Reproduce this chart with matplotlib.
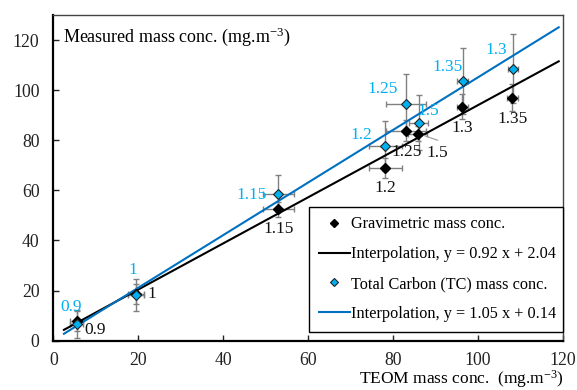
import numpy as np
import matplotlib
matplotlib.use("Agg")
import matplotlib.pyplot as plt

plt.rcParams['font.family'] = ['Liberation Serif', 'DejaVu Serif']
plt.rcParams['mathtext.fontset'] = 'custom'
plt.rcParams['mathtext.rm'] = 'Liberation Serif'
plt.rcParams['mathtext.default'] = 'regular'

# data
labels_grav = ['0.9', '1', '1.15', '1.2', '1.25', '1.5', '1.3', '1.35']
teom_x = [5.5, 19.5, 53.0, 78.2, 83.0, 85.8, 96.3, 108.1]
teom_xerr = [1.6, 1.9, 3.6, 3.8, 4.7, 2.2, 1.3, 1.2]
grav_y = [8.0, 18.5, 52.4, 69.0, 83.9, 82.7, 93.4, 97.0]
grav_yerr = [4.0, 4.0, 3.0, 4.0, 4.0, 3.0, 5.0, 5.4]

labels_tc = ['0.9', '1', '1.15', '1.2', '1.25', '1.5', '1.35', '1.3']
tc_x = [5.5, 19.5, 53.0, 78.2, 83.0, 86.0, 96.4, 108.2]
tc_xerr = [1.6, 1.9, 3.6, 3.8, 4.7, 2.2, 1.3, 1.2]
tc_y = [6.7, 18.2, 58.7, 77.6, 94.5, 87.0, 103.5, 108.6]
tc_yerr = [5.5, 6.3, 7.5, 10.0, 12.0, 11.0, 13.2, 13.7]

fit_range = [2.5, 119.0]
grav_fit = (0.92, 2.04)
tc_fit = (1.05, 0.14)

# label offsets in pixels
off_grav = [(18, -9), (16, 0), (0, -20), (0, -20), (1, -21), (20, -19), (0, -21), (0, -21)]
off_tc = [(-6, 17), (-3, 25), (-27, -1), (-24, 11), (-23, 15), (10, 12), (-15, 14), (-17, 19)]

blue_line = '#0070C0'
blue_pt = '#00B0F0'

fig = plt.figure(figsize=(5.77, 3.90), dpi=100)
ax = fig.add_axes([0.0924, 0.1264, 0.8833, 0.8351])

ax.errorbar(teom_x, grav_y, xerr=teom_xerr, yerr=grav_yerr, fmt='none',
            ecolor='#808080', elinewidth=1, capsize=2.5, zorder=2)
ax.errorbar(tc_x, tc_y, xerr=tc_xerr, yerr=tc_yerr, fmt='none',
            ecolor='#808080', elinewidth=1, capsize=2.5, zorder=2)

xf = np.array(fit_range)
ax.plot(teom_x, grav_y, 'D', color='black', ms=5.5, ls='none', zorder=5,
        label='Gravimetric mass conc.')
ax.plot(xf, grav_fit[0] * xf + grav_fit[1], color='black', lw=1.5, zorder=3,
        label='Interpolation, y = 0.92 x + 2.04')
ax.plot(tc_x, tc_y, 'D', color=blue_pt, mec='#222222', mew=0.8, ms=5.5, ls='none',
        zorder=6, label='Total Carbon (TC) mass conc.')
ax.plot(xf, tc_fit[0] * xf + tc_fit[1], color=blue_line, lw=1.5, zorder=3,
        label='Interpolation, y = 1.05 x + 0.14')

for x, y, s, o in zip(teom_x, grav_y, labels_grav, off_grav):
    ax.annotate(s, (x, y), xytext=o, textcoords='offset pixels', ha='center',
                va='center', fontsize=12.5, color='#111111', zorder=7)
for x, y, s, o in zip(tc_x, tc_y, labels_tc, off_tc):
    ax.annotate(s, (x, y), xytext=o, textcoords='offset pixels', ha='center',
                va='center', fontsize=12.5, color=blue_pt, zorder=7)

# leader line of the black "1.5" label
ax.plot([86.6, 90.5], [82.3, 80.0], color='#999999', lw=0.8, zorder=4)

ax.set_xlim(0, 120)
ax.set_ylim(0, 130)
ax.set_xticks(range(0, 121, 20))
ax.set_yticks(range(0, 121, 20))
ax.tick_params(direction='in', length=4, width=1, labelsize=12.8, pad=10,
               colors='#222222')
ax.tick_params(axis='x', pad=8)
for sp in ['left', 'bottom']:
    ax.spines[sp].set_linewidth(1.6)
    ax.spines[sp].set_color('black')
for sp in ['top', 'right']:
    ax.spines[sp].set_linewidth(1.0)
    ax.spines[sp].set_color('#444444')

ax.text(0.019, 0.932, 'Measured mass conc. (mg.m$^{-3}$)', transform=ax.transAxes,
        ha='left', va='center', fontsize=13)
fig.text(564 / 577, (390 - 379) / 390, 'TEOM mass conc.  (mg.m$^{-3}$)',
         ha='right', va='center', fontsize=12.5)

leg = ax.legend(loc='lower left', bbox_to_anchor=(0.5017, 0.028, 0.4983, 0.37),
                mode='expand', borderaxespad=0,
                fontsize=11.7, handlelength=1.9, handletextpad=0.1,
                labelspacing=0.85, borderpad=0.6, fancybox=False, framealpha=1,
                edgecolor='black', markerscale=0.8)
leg.get_frame().set_linewidth(1.0)

fig.savefig('out.png', dpi=100)
